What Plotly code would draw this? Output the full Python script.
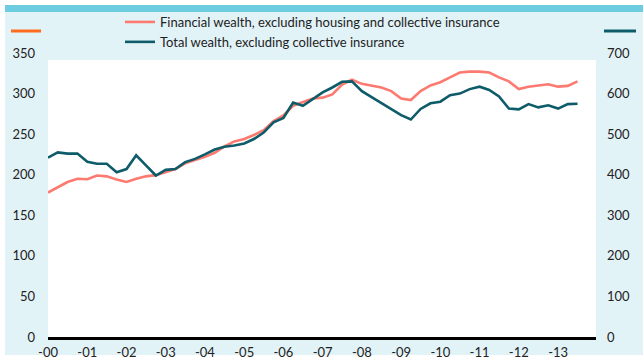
import pandas as pd
import plotly.graph_objects as go

# Quarterly observations, 2000 Q1 - 2013 Q3
quarters = pd.date_range("2000-01-01", periods=55, freq="QS")

# Financial wealth, excluding housing and collective insurance (left axis)
financial = [
    178, 184, 191, 195, 194.5, 199, 198, 194, 191, 195, 198, 199.5,
    203, 207, 214, 218, 222, 227, 235, 241, 244, 249, 255, 266,
    273, 285, 289, 294, 295, 299, 311, 317, 312, 310, 307.5, 303,
    294, 292, 303, 310, 314, 320, 326, 327, 327, 326, 320, 315,
    305.5, 308.5, 310, 311.5, 308.5, 309.5, 315,
]

# Total wealth, excluding collective insurance (right axis)
total = [
    442, 455, 452, 452, 432, 427, 427, 406, 414, 448, 423, 398,
    412, 414, 431, 439, 450, 462, 469, 472, 477, 488, 504, 529,
    540, 578, 570, 587, 603, 615, 629, 630, 606, 591, 577, 563,
    547, 536, 562, 576, 580, 596, 600, 611, 617, 609, 593, 563,
    561, 574, 566, 571, 563, 574, 575,
]

year_ticks = pd.date_range("2000-01-01", periods=14, freq="YS")
left_ticks = [0, 50, 100, 150, 200, 250, 300, 350]
right_ticks = [0, 100, 200, 300, 400, 500, 600, 700]
grid_values = [50, 100, 150, 200, 250, 300]

W, H = 643, 359
ML, MR, MT, MB = 48, 47, 53, 22
PW, PH = W - ML - MR, H - MT - MB

PINK = "#fd7a71"
TEAL = "#0e5c69"
ORANGE = "#ff6b1f"
PANEL = "#e2f3f8"
BAR = "#6ccce0"
FONT = "Lato, sans-serif"


def px(x):
    return (x - ML) / PW


def py(y):
    return (H - MB - y) / PH


fig = go.Figure()
fig.add_trace(go.Scatter(
    x=quarters, y=financial, mode="lines", yaxis="y",
    name="Financial wealth, excluding housing and collective insurance",
    line=dict(color=PINK, width=2.6),
))
fig.add_trace(go.Scatter(
    x=quarters, y=total, mode="lines", yaxis="y2",
    name="Total wealth, excluding collective insurance",
    line=dict(color=TEAL, width=2.6),
))

shapes = [
    # light blue panel behind the chart
    dict(type="rect", xref="paper", yref="paper", layer="below",
         x0=px(5), x1=px(W + 2), y0=py(355), y1=py(12),
         fillcolor=PANEL, line=dict(width=0)),
    # teal band along the top
    dict(type="rect", xref="paper", yref="paper", layer="below",
         x0=px(5), x1=px(W + 2), y0=py(12), y1=py(5),
         fillcolor=BAR, line=dict(width=0)),
    # white plotting field
    dict(type="rect", xref="paper", yref="y", layer="below",
         x0=0, x1=1, y0=0, y1=341.5,
         fillcolor="white", line=dict(width=0)),
    # axis keys
    dict(type="line", xref="paper", yref="paper",
         x0=px(11), x1=px(41), y0=py(31), y1=py(31),
         line=dict(color=ORANGE, width=3)),
    dict(type="line", xref="paper", yref="paper",
         x0=px(604), x1=px(636), y0=py(31), y1=py(31),
         line=dict(color=TEAL, width=3)),
]

fig.update_layout(
    width=W, height=H,
    margin=dict(l=ML, r=MR, t=MT, b=MB, autoexpand=False),
    paper_bgcolor="white",
    plot_bgcolor=PANEL,
    font=dict(family=FONT, size=13, color="#222222"),
    showlegend=True,
    legend=dict(
        x=px(120), y=py(7), xanchor="left", yanchor="top",
        bgcolor="rgba(0,0,0,0)", font=dict(size=13, color="#222222"),
        tracegroupgap=0, itemwidth=30,
    ),
    xaxis=dict(
        range=["2000-01-01", "2013-12-20"],
        tickvals=year_ticks, tickformat="-%y",
        showgrid=False, zeroline=False, automargin=False,
        showline=True, linecolor="black", linewidth=3,
        ticks="", ticklabelstandoff=1,
    ),
    yaxis=dict(
        range=[0, 350], tickvals=left_ticks, showgrid=False, automargin=False,
        zeroline=False, showline=False, ticks="", ticklabelstandoff=12,
    ),
    yaxis2=dict(
        range=[0, 700], tickvals=right_ticks, overlaying="y", side="right",
        showgrid=False, zeroline=False, showline=False, ticks="",
        automargin=False, ticklabelstandoff=10,
    ),
    yaxis3=dict(
        range=[0, 350], tickvals=grid_values, overlaying="y",
        showgrid=True, gridcolor="#d9d9d9", gridwidth=1.3, automargin=False,
        showticklabels=False, zeroline=False, showline=False, ticks="",
    ),
    shapes=shapes,
)

fig.write_html("out.html")
